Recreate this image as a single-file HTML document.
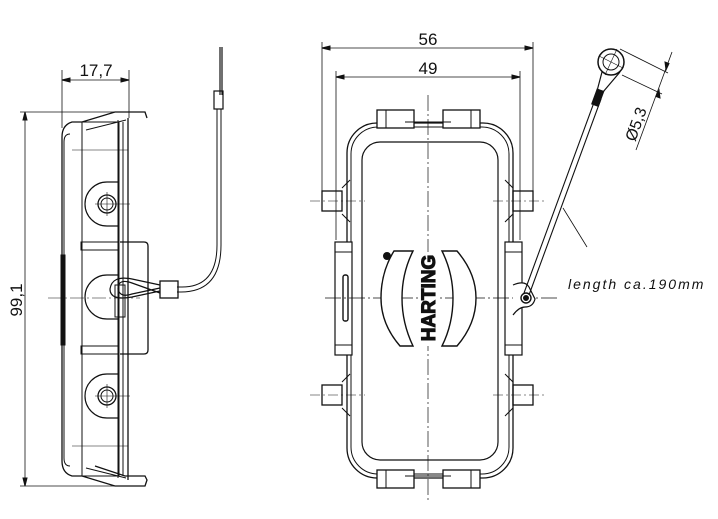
<!DOCTYPE html>
<html><head><meta charset="utf-8"><style>
html,body{margin:0;padding:0;background:#fff;}
svg{display:block}
text{font-family:"Liberation Sans",sans-serif;fill:#111}
</style></head><body>
<svg width="718" height="519" viewBox="0 0 718 519" xmlns="http://www.w3.org/2000/svg" fill="none" stroke="#111" stroke-width="1">
<!-- LEFT VIEW dims -->
<line x1="62" y1="70" x2="62" y2="128" stroke-width="0.8"/>
<line x1="129" y1="70" x2="129" y2="118" stroke-width="0.8"/>
<line x1="62" y1="80" x2="129" y2="80" stroke-width="0.8"/>
<path d="M62 80 l8 -2 v4z M129 80 l-8 -2 v4z" fill="#111"/>
<text x="96" y="76" font-size="17" text-anchor="middle" stroke="none">17,7</text>
<line x1="20" y1="112" x2="145" y2="112" stroke-width="0.8"/>
<line x1="20" y1="486" x2="145" y2="486" stroke-width="0.8"/>
<line x1="25" y1="112" x2="25" y2="486" stroke-width="0.8"/>
<path d="M25 112 l-2 8 h4z M25 486 l-2 -8 h4z" fill="#111"/>
<text x="0" y="0" font-size="17" text-anchor="middle" stroke="none" transform="translate(22,300) rotate(-90)">99,1</text>
<!-- left body -->
<path d="M147 118 l-2 -6 h-30 l-33 10 h-10 q-10 3 -10 15 v324 q0 12 10 15 h10 l33 10 h30 l2 -6 l-2 -4 h-20 l-30 -10" stroke-width="1.3"/>
<path d="M126 120 l-40 10 M126 478 l-40 -10"/>
<path d="M70 134 q-6 0 -6 8 v316 q0 8 6 8" />
<rect x="82" y="122" width="37" height="354"/>
<line x1="118" y1="120" x2="118" y2="478"/>
<line x1="123" y1="122" x2="123" y2="476"/>
<line x1="128" y1="118" x2="128" y2="480" stroke-width="1.3"/>
<line x1="72" y1="150" x2="128" y2="150" stroke-width="0.6"/>
<line x1="72" y1="446" x2="128" y2="446" stroke-width="0.6"/>
<rect x="61" y="255" width="4" height="90" fill="#111"/>
<!-- bosses -->
<path d="M118 182 h-11 a22 22 0 0 0 0 44 h11" stroke-width="1.2"/>
<circle cx="107" cy="204" r="9" stroke-width="1.3"/><circle cx="107" cy="204" r="6"/>
<line x1="95" y1="204" x2="130" y2="204" stroke-width="0.6"/><line x1="107" y1="192" x2="107" y2="216" stroke-width="0.6"/>
<path d="M118 374 h-11 a22 22 0 0 0 0 44 h11" stroke-width="1.2"/>
<circle cx="107" cy="396" r="9" stroke-width="1.3"/><circle cx="107" cy="396" r="6"/>
<line x1="95" y1="396" x2="130" y2="396" stroke-width="0.6"/><line x1="107" y1="384" x2="107" y2="408" stroke-width="0.6"/>
<path d="M118 275 h-11 a22 22 0 0 0 0 44 h11" stroke-width="1.2"/>
<line x1="48" y1="298" x2="140" y2="298" stroke-width="0.6" stroke-dasharray="14 3 2 3"/>
<path d="M120 242 h24 q4 0 4 4 v104 q0 4 -4 4 h-24" stroke-width="1.3"/>
<rect x="81" y="242" width="38" height="8"/><rect x="81" y="346" width="38" height="8"/>
<rect x="115" y="285" width="10" height="32"/>
<!-- cable -->
<path d="M222 47 v48 M220 47 v48" stroke-width="1.2"/>
<rect x="214" y="91" width="9" height="18" stroke-width="1.2"/>
<path d="M217 109 v136 q0 42 -35 42 h-5 M221 109 v136 q0 47 -40 47 h-4" stroke-width="1"/>
<rect x="160" y="281" width="18" height="17" stroke-width="1.3"/>
<path d="M160 285 l-28 -6 q-20 -4 -22 10 q0 12 22 8 l28 -6 M160 293 l-28 -10 q-14 -5 -14 6 q2 9 14 5 l28 -6" stroke-width="1.2"/>
<!-- RIGHT VIEW dims -->
<line x1="322" y1="42" x2="322" y2="195" stroke-width="0.8"/>
<line x1="533" y1="42" x2="533" y2="195" stroke-width="0.8"/>
<line x1="336" y1="71" x2="336" y2="240" stroke-width="0.8"/>
<line x1="520" y1="71" x2="520" y2="240" stroke-width="0.8"/>
<line x1="322" y1="48" x2="533" y2="48" stroke-width="0.8"/>
<line x1="336" y1="77" x2="520" y2="77" stroke-width="0.8"/>
<path d="M322 48 l8 -2 v4z M533 48 l-8 -2 v4z M336 77 l8 -2 v4z M520 77 l-8 -2 v4z" fill="#111"/>
<text x="428" y="45" font-size="17" text-anchor="middle" stroke="none">56</text>
<text x="428" y="74" font-size="17" text-anchor="middle" stroke="none">49</text>
<!-- body -->
<rect x="347" y="123" width="166" height="355" rx="30" stroke-width="1.3"/>
<rect x="351" y="127" width="158" height="347" rx="27"/>
<rect x="362" y="142" width="136" height="318" rx="18" stroke-width="1.2"/>
<rect x="377" y="110" width="37" height="18" fill="#fff" stroke-width="1.3"/><rect x="443" y="110" width="37" height="18" fill="#fff" stroke-width="1.3"/>
<rect x="377" y="470" width="37" height="18" fill="#fff" stroke-width="1.3"/><rect x="443" y="470" width="37" height="18" fill="#fff" stroke-width="1.3"/>
<path d="M405 122 h46 M405 476 h46 M386 110 v18 M471 110 v18 M386 470 v18 M471 470 v18"/>
<!-- side bosses -->
<rect x="322" y="191" width="20" height="20" stroke-width="1.3"/><rect x="513" y="191" width="20" height="20" stroke-width="1.3"/>
<rect x="322" y="385" width="20" height="20" stroke-width="1.3"/><rect x="513" y="385" width="20" height="20" stroke-width="1.3"/>
<path d="M342 188 l8 -8 M342 214 l8 8 M513 188 l-8 -8 M513 214 l-8 8 M342 382 l8 -8 M342 408 l8 8 M513 382 l-8 -8 M513 408 l-8 8"/>
<line x1="310" y1="201" x2="365" y2="201" stroke-width="0.6" stroke-dasharray="10 3 2 3"/>
<line x1="493" y1="201" x2="545" y2="201" stroke-width="0.6" stroke-dasharray="10 3 2 3"/>
<line x1="310" y1="395" x2="365" y2="395" stroke-width="0.6" stroke-dasharray="10 3 2 3"/>
<line x1="493" y1="395" x2="545" y2="395" stroke-width="0.6" stroke-dasharray="10 3 2 3"/>
<rect x="335" y="242" width="17" height="113" fill="#fff" stroke-width="1.2"/>
<rect x="505" y="242" width="17" height="113" fill="#fff" stroke-width="1.2"/>
<path d="M335 252 h17 M335 345 h17 M505 252 h17 M505 345 h17"/>
<rect x="343" y="275" width="5" height="46" rx="2" stroke-width="1.4"/>
<!-- centerlines -->
<line x1="428" y1="95" x2="428" y2="500" stroke-width="0.7" stroke-dasharray="16 3 2 3"/>
<line x1="325" y1="298" x2="560" y2="298" stroke-width="0.7" stroke-dasharray="16 3 2 3"/>
<!-- logo -->
<path d="M394 251 h19 q-11 22 -11 47 q0 25 11 48 h-13 q-19 -22 -19 -48 q0 -26 13 -47z" stroke-width="1.4" fill="#fff"/>
<path d="M442 251 h15 q19 22 19 47 q0 26 -19 48 h-15 q11 -22 11 -48 q0 -25 -11 -47z" stroke-width="1.4" fill="#fff"/>
<rect x="418" y="252" width="20" height="94" fill="#fff" stroke="none"/>
<text x="0" y="0" font-size="19" font-weight="bold" text-anchor="middle" fill="#fff" stroke="#111" stroke-width="1.1" transform="translate(435,298) rotate(-90)">HARTING</text>
<circle cx="387" cy="256" r="3.5" fill="#111"/>
<!-- right cable -->
<path d="M513 285 q12 -5 16 2 l6 12 q-2 8 -10 8 q-6 0 -12 8" stroke-width="1.2" fill="#fff"/>
<circle cx="526" cy="298" r="5" stroke-width="1.4"/><circle cx="526" cy="298" r="2.5" fill="#111"/>
<path d="M524 293 L596 97 M529 295 L601 99" stroke-width="1.1"/>
<rect x="-3" y="0" width="7" height="16" transform="translate(600,90) rotate(20)" fill="#111"/>
<path d="M597 91 L602 72 M603 92 L620 72" stroke-width="1.2"/>
<circle cx="611" cy="62" r="13" stroke-width="1.5" fill="#fff"/>
<circle cx="611" cy="62" r="8" stroke-width="1"/>
<path d="M599 56 L623 68 M617 49 L605 75" stroke-width="0.6"/>
<line x1="563" y1="208" x2="587" y2="247" stroke-width="0.8"/>
<text x="568" y="289" font-size="14" font-style="italic" letter-spacing="2" stroke="none">length ca.190mm</text>
<!-- Ø5,3 dim -->
<line x1="620" y1="49" x2="668" y2="73" stroke-width="0.8"/>
<line x1="622" y1="75" x2="662" y2="94" stroke-width="0.8"/>
<line x1="672" y1="52" x2="636" y2="150" stroke-width="0.8"/>
<path d="M666 70 l-1 -8 l4 1.5z M659 90 l1 8 l-4 -1.5z" fill="#111"/>
<text x="0" y="0" font-size="16" text-anchor="middle" stroke="none" transform="translate(641,126) rotate(-70)">Ø5,3</text>
</svg>
</body></html>
